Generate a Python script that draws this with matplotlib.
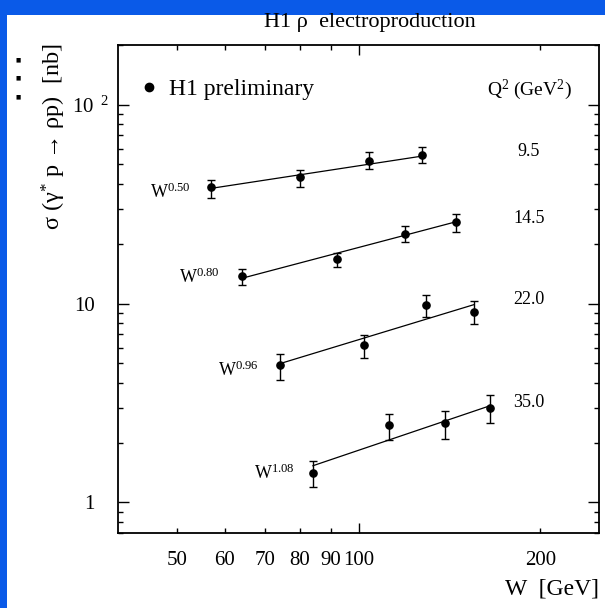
import matplotlib
matplotlib.use('Agg')
import matplotlib.pyplot as plt
import matplotlib.ticker as mticker
from matplotlib.patches import Rectangle
from matplotlib.lines import Line2D
from matplotlib.transforms import ScaledTranslation
import numpy as np

plt.rcParams['font.family'] = ['Liberation Serif', 'DejaVu Serif']
plt.rcParams['mathtext.fontset'] = 'custom'
plt.rcParams['mathtext.rm'] = 'Liberation Serif'
plt.rcParams['mathtext.it'] = 'Liberation Serif:italic'
plt.rcParams['mathtext.bf'] = 'Liberation Serif:bold'

# ---------------- data ----------------
q2_labels = ['9.5', '14.5', '22.0', '35.0']
exponent_labels = ['0.50', '0.80', '0.96', '1.08']

w_95 = [56.9, 80.0, 104.2, 127.4]
s_95 = [38.5, 43.4, 52.2, 55.7]
hi_95 = [41.8, 46.9, 57.5, 60.9]
lo_95 = [34.1, 38.7, 47.3, 50.7]
fitw_95 = [56.9, 127.4]
fits_95 = [37.9, 55.1]

w_145 = [64.1, 92.1, 119.2, 145.2]
s_145 = [13.7, 16.7, 22.4, 25.6]
hi_145 = [14.9, 17.9, 24.4, 28.1]
lo_145 = [12.35, 15.3, 20.4, 23.0]
fitw_145 = [64.1, 145.2]
fits_145 = [13.4, 25.8]

w_220 = [74.1, 101.9, 129.1, 155.3]
s_220 = [4.91, 6.16, 9.80, 9.09]
hi_220 = [5.55, 6.92, 11.1, 10.27]
lo_220 = [4.13, 5.35, 8.58, 7.85]
fitw_220 = [74.1, 155.3]
fits_220 = [4.99, 9.88]

w_350 = [84.0, 112.1, 139.2, 164.8]
s_350 = [1.403, 2.45, 2.51, 2.98]
hi_350 = [1.62, 2.80, 2.89, 3.47]
lo_350 = [1.19, 2.06, 2.08, 2.50]
fitw_350 = [84.0, 164.8]
fits_350 = [1.53, 3.06]

xtick_major = [100]
xtick_major_labels = ['100']
xtick_minor = [50, 60, 70, 80, 90, 200]
xtick_minor_labels = ['50', '60', '70', '80', '90', '200']
ytick_major = [1, 10, 100]
ytick_labels = ['1', '10', r'10$^{\ \ 2}$']

series = [
    (w_95, s_95, hi_95, lo_95, fitw_95, fits_95),
    (w_145, s_145, hi_145, lo_145, fitw_145, fits_145),
    (w_220, s_220, hi_220, lo_220, fitw_220, fits_220),
    (w_350, s_350, hi_350, lo_350, fitw_350, fits_350),
]

# ---------------- layout / style ----------------
W_PX, H_PX = 605, 608
fig = plt.figure(figsize=(W_PX / 100, H_PX / 100), dpi=100)
blue = '#0a5ae8'
fig.patch.set_facecolor(blue)
fig.patches.append(Rectangle((7 / W_PX, 0), 1, 1 - 15 / H_PX, transform=fig.transFigure,
                             facecolor='white', edgecolor='none', zorder=-10))

ax_l, ax_r, ax_t, ax_b = 118.3, 599.0, 44.7, 533.3
ax = fig.add_axes([ax_l / W_PX, 1 - ax_b / H_PX, (ax_r - ax_l) / W_PX, (ax_b - ax_t) / H_PX])
ax.set_xscale('log')
ax.set_yscale('log')
ax.set_xlim(40, 250)
ax.set_ylim(0.7, 200)

label_offsets_px = [(-19.5, -10.7), (-22.7, -6.6), (-21.4, -11.0), (-17.7, -5.7)]
q2_label_y = [0.7804, 0.6453, 0.4795, 0.2667]

for i, (w, s, hi, lo, fw, fs) in enumerate(series):
    w = np.array(w); s = np.array(s); hi = np.array(hi); lo = np.array(lo)
    ax.plot(fw, fs, color='black', lw=0.9, zorder=2)
    ax.errorbar(w, s, yerr=[s - lo, hi - s], fmt='o', color='black', ms=5.2,
                elinewidth=1.0, capsize=3.0, capthick=1.0, zorder=3)
    dx, dy = label_offsets_px[i]
    ax.annotate('W$^{' + exponent_labels[i] + '}$', xy=(w[0], s[0]),
                xytext=(dx * 0.72, dy * 0.72), textcoords='offset points',
                ha='right', va='baseline', fontsize=13)
    ax.text(0.8544, q2_label_y[i], q2_labels[i], transform=ax.transAxes,
            ha='center', va='center', fontsize=13)

ax.text(0.8544, 0.9078, r'Q$^{2}$ (GeV$^{2}$)', transform=ax.transAxes,
        ha='center', va='center', fontsize=14)

handle = Line2D([], [], marker='o', color='black', ls='none', ms=6)
ax.legend([handle], ['H1 preliminary'], loc='center left', bbox_to_anchor=(0.045, 0.909),
          frameon=False, fontsize=17, handlelength=0.8, handletextpad=0.45,
          borderaxespad=0, borderpad=0)

ax.set_xticks(xtick_major, xtick_major_labels)
ax.set_xticks(xtick_minor, xtick_minor_labels, minor=True)
ax.set_yticks(ytick_major, ytick_labels)
ax.yaxis.set_minor_locator(mticker.LogLocator(base=10, subs=np.arange(2, 10)))
ax.yaxis.set_minor_formatter(mticker.NullFormatter())

ax.tick_params(which='both', direction='in', top=True, right=True, width=1.0)
ax.tick_params(axis='x', which='major', length=7.2)
ax.tick_params(axis='x', which='minor', length=3.6)
ax.tick_params(axis='y', which='major', length=7.9)
ax.tick_params(axis='y', which='minor', length=3.6)
ax.tick_params(axis='x', which='both', pad=13, labelsize=15)
ax.tick_params(axis='y', which='both', pad=17, labelsize=15)
for sp in ax.spines.values():
    sp.set_linewidth(1.3)

# shift the 10^2 label slightly to the right as in the reference
for lbl in ax.get_yticklabels():
    if lbl.get_text().startswith('10$'):
        lbl.set_transform(lbl.get_transform() + ScaledTranslation(14 / 100, 0, fig.dpi_scale_trans))

ax.set_xlabel('W  [GeV]', fontsize=17, loc='right', labelpad=6)
ax.set_ylabel(r'σ (γ$^{*}$ p → ρp)  [nb]', fontsize=17.5)
ax.yaxis.set_label_coords(-0.104, 0.811)

fig.text(370 / W_PX, 1 - 22 / H_PX, 'H1 ρ  electroproduction', ha='center', va='center', fontsize=16)

for yy in [60, 78, 97]:
    fig.text(18 / W_PX, 1 - yy / H_PX, '■', ha='center', va='center', fontsize=4,
             family=['DejaVu Sans'])

fig.savefig('out.png', dpi=100, facecolor=fig.get_facecolor())
